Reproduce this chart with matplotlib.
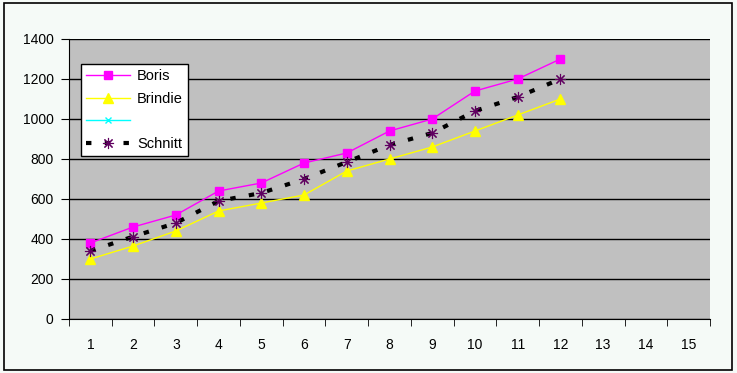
import matplotlib
matplotlib.use("Agg")
from matplotlib import pyplot as plt
from matplotlib.patches import Rectangle

plt.rcParams['font.family'] = ['Liberation Sans', 'DejaVu Sans']

# data
cats = list(range(1, 16))
boris = [380, 460, 520, 640, 680, 780, 830, 940, 1000, 1140, 1200, 1300]
brindie = [300, 365, 440, 540, 580, 620, 740, 800, 860, 940, 1020, 1100]
schnitt = [340, 412, 480, 590, 630, 700, 785, 870, 930, 1040, 1110, 1200]
yticks = [0, 200, 400, 600, 800, 1000, 1200, 1400]

fig = plt.figure(figsize=(7.37, 3.73), dpi=100)
fig.patch.set_facecolor('#f5faf7')
# outer frame
fig.patches.append(Rectangle((4/737, 3/373), 728/737, 367/373, transform=fig.transFigure,
                             fill=False, edgecolor='black', linewidth=1.2))

ax = fig.add_axes([69/737, 54/373, 641/737, 280/373])
ax.set_facecolor('#c0c0c0')

xs = cats[:len(boris)]
ax.plot(xs, boris, color='#ff00ff', lw=1, marker='s', ms=6, mec='#ff00ff', label='Boris')
ax.plot(xs, brindie, color='#ffff00', lw=1, marker='^', ms=7, mec='#ffff00', label='Brindie')
ax.plot([], [], color='#00ffff', lw=1, marker='x', ms=5, label=' ')
ax.plot(xs, schnitt, color='black', lw=3, ls=(0, (1.3, 3.2)), marker=(8, 2, 0), ms=8,
        mec='#600060', mew=0.8, label='Schnitt')

ax.set_xlim(0.5, 15.5)
ax.set_ylim(0, 1400)
ax.set_yticks(yticks)
ax.set_xticks(cats)
ax.set_xticks([c + 0.5 for c in [0] + cats], minor=True)
ax.tick_params(axis='x', which='major', length=0, pad=14, labelsize=10)
ax.tick_params(axis='x', which='minor', length=5, direction='out')
ax.tick_params(axis='y', length=6, direction='out', labelsize=10, pad=5)
ax.grid(axis='y', color='black', lw=1)
ax.set_axisbelow(True)
for s in ['top', 'right']:
    ax.spines[s].set_visible(False)

leg = ax.legend(loc='upper left', bbox_to_anchor=(0.0187, 0.911), frameon=True, fancybox=False,
                edgecolor='black', framealpha=1, facecolor='white', fontsize=10.5,
                borderaxespad=0, handlelength=3.0, handletextpad=0.5, labelspacing=0.6,
                borderpad=0.35)
leg.get_frame().set_linewidth(1)

fig.savefig('out.png', dpi=100, facecolor=fig.get_facecolor())
